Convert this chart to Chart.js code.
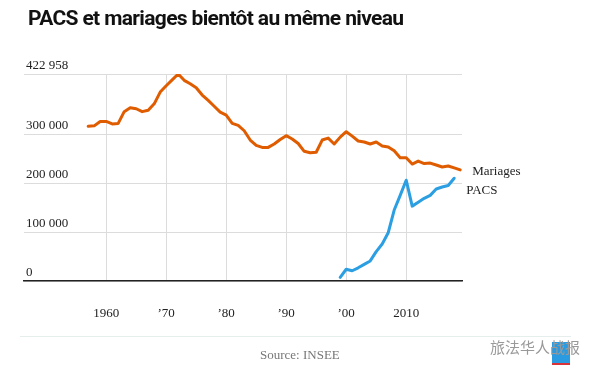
<!DOCTYPE html>
<html>
<head>
<meta charset="utf-8">
<script src="https://cdn.jsdelivr.net/npm/chart.js@4"></script>
<style>
  html, body { margin: 0; padding: 0; background: #fff; }
  #wrap { position: relative; width: 591px; height: 375px; overflow: hidden; }
  #chart { position: absolute; left: 0; top: 0; }
  .title {
    position: absolute; left: 28px; top: 6px;
    font: bold 21px Roboto, sans-serif; color: #111; letter-spacing: -0.65px;
    white-space: nowrap;
  }
  .rule { position: absolute; left: 20px; width: 551px; top: 336px; height: 1px; background: #e6eded; }
  .source {
    position: absolute; left: 260px; top: 347px;
    font: 13px "Liberation Serif", serif; color: #777;
  }
  .mark { position: absolute; left: 552px; top: 342px; width: 18px; height: 21px; background: #2a9be0; border-bottom: 2px solid #d9343a; }
  .wm {
    position: absolute; left: 490px; top: 336px;
    font: 15px "Noto Sans CJK SC", sans-serif; color: #999; white-space: nowrap;
  }
</style>
</head>
<body>
<div id="wrap">
  <canvas id="chart" width="591" height="375"></canvas>
  <div class="title">PACS et mariages bientôt au même niveau</div>
  <div class="rule"></div>
  <div class="source">Source: INSEE</div>
  <div class="mark"></div>
  <div class="wm">旅法华人战报</div>
</div>
<script>
// Data
const marriageYears = [1957, 1958, 1959, 1960, 1961, 1962, 1963, 1964, 1965, 1966,
  1967, 1968, 1969, 1970, 1971, 1972, 1973, 1974, 1975, 1976,
  1977, 1978, 1979, 1980, 1981, 1982, 1983, 1984, 1985, 1986,
  1987, 1988, 1989, 1990, 1991, 1992, 1993, 1994, 1995, 1996,
  1997, 1998, 1999, 2000, 2001, 2002, 2003, 2004, 2005, 2006,
  2007, 2008, 2009, 2010, 2011, 2012, 2013, 2014, 2015, 2016,
  2017, 2018, 2019];
const marriages = [316000, 317000, 326000, 326000, 321000, 322000, 346000, 354000, 352000, 346000,
  349000, 362000, 386000, 399000, 411000, 422958, 410000, 403000, 395000, 380000,
  369000, 357000, 345000, 339000, 322000, 318000, 307000, 288000, 277000, 273000,
  273000, 280000, 289000, 297000, 290000, 281000, 265000, 262000, 263000, 288000,
  292000, 280000, 294000, 305000, 296000, 286000, 284000, 280000, 284000, 276000,
  274000, 266000, 252000, 252000, 239000, 245000, 240000, 241000, 237000, 233000,
  235000, 231000, 227000];

const pacsYears = [1999, 2000, 2001, 2002, 2003, 2004, 2005, 2006, 2007, 2008,
  2009, 2010, 2011, 2012, 2013, 2014, 2015, 2016, 2017, 2018];
const pacs = [7500, 24000, 21000, 27000, 34000, 41000, 60000, 75500, 98600, 145000,
  175000, 206000, 153000, 161000, 169000, 175000, 188000, 192000, 195000, 210000];

const yTicks = [0, 100000, 200000, 300000, 422958];
const xTicks = [1960, 1970, 1980, 1990, 2000, 2010];
const xTickLabels = ["1960", "\u201970", "\u201980", "\u201990", "\u201900", "2010"];

const serif = "'Liberation Serif', serif";

function spaced(v) {
  return String(v).replace(/\B(?=(\d{3})+(?!\d))/g, " ");
}

// series name written right after the last point of each line
const endLabels = {
  id: "endLabels",
  afterDatasetsDraw(chart) {
    const ctx = chart.ctx;
    ctx.save();
    ctx.font = "13px " + serif;
    ctx.fillStyle = "#222";
    ctx.textAlign = "left";
    ctx.textBaseline = "middle";
    chart.data.datasets.forEach((ds, i) => {
      const pts = chart.getDatasetMeta(i).data;
      const last = pts[pts.length - 1];
      ctx.fillText(ds.label, last.x + ds.labelDx, last.y + ds.labelDy);
    });
    ctx.restore();
  },
};

new Chart(document.getElementById("chart"), {
  type: "line",
  data: {
    datasets: [
      {
        label: "Mariages",
        data: marriageYears.map((y, i) => ({ x: y, y: marriages[i] })),
        borderColor: "#e05c00",
        borderWidth: 3,
        labelDx: 12,
        labelDy: 2,
      },
      {
        label: "PACS",
        data: pacsYears.map((y, i) => ({ x: y, y: pacs[i] })),
        borderColor: "#2b9fe2",
        borderWidth: 3,
        labelDx: 12,
        labelDy: 12,
      },
    ],
  },
  options: {
    responsive: false,
    animation: false,
    layout: { padding: { left: 24, right: 129, top: 74, bottom: 0 } },
    elements: {
      point: { radius: 0 },
      line: { tension: 0, borderJoinStyle: "round", borderCapStyle: "round" },
    },
    plugins: {
      legend: { display: false },
      tooltip: { enabled: false },
    },
    scales: {
      x: {
        type: "linear",
        min: 1946.3,
        max: 2019.3,
        afterFit: (s) => { s.height = 94; },
        afterBuildTicks: (s) => { s.ticks = xTicks.map((v) => ({ value: v })); },
        grid: { color: "#dcdcdc", lineWidth: 1, drawTicks: false },
        border: { display: true, color: "#222", width: 1.5 },
        ticks: {
          padding: 25,
          color: "#222",
          font: { family: serif, size: 13 },
          maxRotation: 0,
          callback: (v) => xTickLabels[xTicks.indexOf(v)],
        },
      },
      y: {
        min: 0,
        max: 422958,
        afterFit: (s) => { s.width = 0; },
        afterBuildTicks: (s) => { s.ticks = yTicks.map((v) => ({ value: v })); },
        grid: { color: "#dcdcdc", lineWidth: 1, drawTicks: false },
        border: { display: false },
        ticks: {
          mirror: true,
          padding: 2,
          labelOffset: -8.5,
          color: "#222",
          font: { family: serif, size: 13 },
          callback: (v) => spaced(v),
        },
      },
    },
  },
  plugins: [endLabels],
});
</script>
</body>
</html>
